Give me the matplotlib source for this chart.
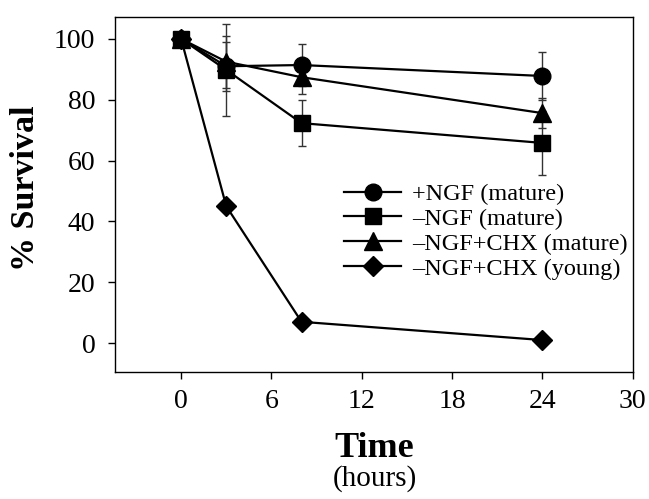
import matplotlib
matplotlib.use('Agg')
import matplotlib.pyplot as plt

# time points (hours)
time = [0, 3, 8, 24]

# % survival for each condition
ngf_mature = [100, 91, 91.4, 87.8]
ngf_mature_err = [0, 8, 7, 8]

no_ngf_mature = [100, 89.8, 72.3, 65.8]
no_ngf_mature_err = [0, 15, 7.5, 10.5]

chx_mature = [100, 92.5, 87.4, 75.6]
chx_mature_err = [0, 8.5, 5.5, 5]

chx_young = [100, 45, 7, 1]
chx_young_err = [0, 0, 0, 0]

labels = ['+NGF (mature)', '\u2013NGF (mature)',
          '\u2013NGF+CHX (mature)', '\u2013NGF+CHX (young)']
markers = ['o', 's', '^', 'D']
sizes = [12, 11.5, 13, 10]

plt.rcParams['font.family'] = ['Liberation Serif', 'DejaVu Serif']

fig = plt.figure(figsize=(6.49, 4.99), dpi=100)
ax = fig.add_axes([0.177, 0.2545, 0.799, 0.7115])

series = [(ngf_mature, ngf_mature_err), (no_ngf_mature, no_ngf_mature_err),
          (chx_mature, chx_mature_err), (chx_young, chx_young_err)]

for (vals, err), lab, m, s in zip(series, labels, markers, sizes):
    ax.errorbar(time, vals, yerr=err, color='black', ecolor='#333333',
                elinewidth=1.0, capsize=3, capthick=1.0,
                marker=m, markersize=s, linewidth=1.6, label=lab)

ax.set_xlim(-4.4, 30.05)
ax.set_ylim(-9.5, 107.2)
ax.set_xticks([0, 6, 12, 18, 24, 30])
ax.set_yticks([0, 20, 40, 60, 80, 100])
for sp in ax.spines.values():
    sp.set_linewidth(1.0)
ax.tick_params(direction='out', length=5, width=1, labelsize=20)
ax.tick_params(axis='x', pad=7)
ax.tick_params(axis='y', pad=9)

ax.set_ylabel('% Survival', fontsize=24.5, fontweight='bold', va='center')
ax.yaxis.set_label_coords(-0.172, 0.518)
ax.set_xlabel('Time', fontsize=26, fontweight='bold', va='baseline')
ax.xaxis.set_label_coords(0.5, -0.239)
fig.text(0.578, 0.026, '(hours)', fontsize=21, ha='center', va='baseline')

# legend: plain, no frame, long line handles
handles, labs = ax.get_legend_handles_labels()
handles = [h[0] for h in handles]
ax.legend(handles, labs, loc='center left', bbox_to_anchor=(0.442, 0.396),
          frameon=False, fontsize=17.5, handlelength=2.35, labelspacing=0.12,
          handletextpad=0.45, borderpad=0, borderaxespad=0)

fig.savefig('out.png', dpi=100)
